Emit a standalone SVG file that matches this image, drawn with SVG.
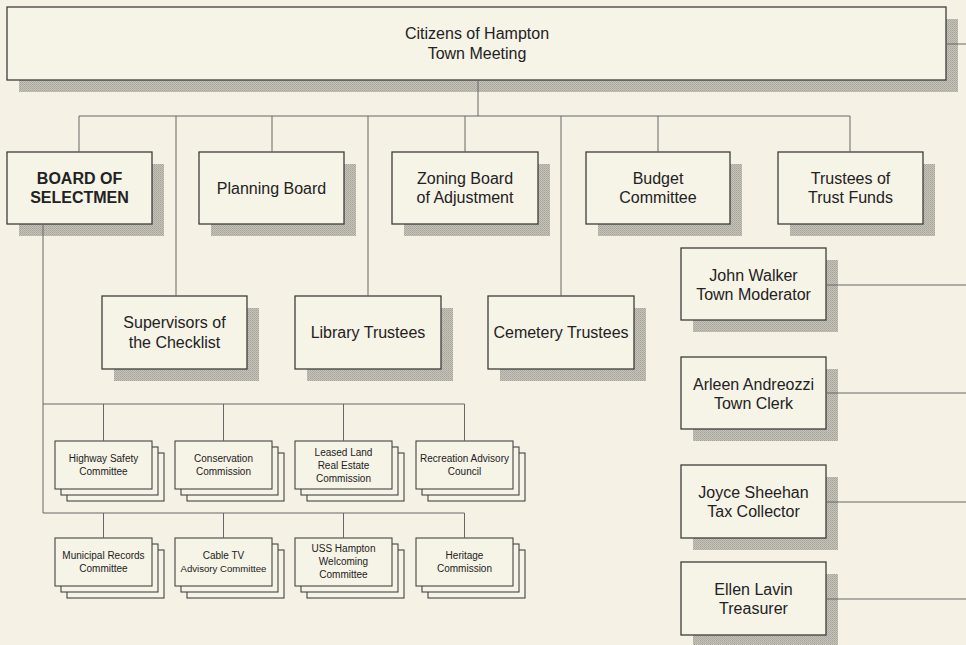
<svg xmlns="http://www.w3.org/2000/svg" width="966" height="645" viewBox="0 0 966 645">
<style>
.bg{fill:#f5f2e5}
.box{fill:#f6f3e7;stroke:#3c3c3c;stroke-width:1.3}
.sbox{fill:#f6f3e7;stroke:#444;stroke-width:1.1}
.sh{fill:url(#stip)}
.t{font-family:"Liberation Sans",Arial,sans-serif;font-size:16px;fill:#222;text-anchor:middle}
.b{font-weight:bold}
.s{font-family:"Liberation Sans",Arial,sans-serif;font-size:10px;fill:#222;text-anchor:middle}
.n{font-size:9.6px}
.c{stroke:#666;stroke-width:1;fill:none}
</style>
<defs>
<pattern id="stip" width="2" height="2" patternUnits="userSpaceOnUse">
<rect width="2" height="2" fill="#c6c3b8"/>
<rect width="1" height="1" fill="#a6a39a"/>
<rect x="1" y="1" width="1" height="1" fill="#b0ada4"/>
</pattern>
</defs>
<rect class="bg" x="0" y="0" width="966" height="645"/>

<g id="citizens">
<rect class="sh" x="19" y="19" width="939" height="73"/>
<rect class="box" x="7" y="7" width="939" height="73"/>
<text class="t" x="477" y="39">Citizens of Hampton</text>
<text class="t" x="477" y="59">Town Meeting</text>
</g>

<g id="board-of-selectmen">
<rect class="sh" x="19" y="164" width="145" height="72"/>
<rect class="box" x="7" y="152" width="145" height="72"/>
<text class="t b" x="79.5" y="184">BOARD OF</text>
<text class="t b" x="79.5" y="203">SELECTMEN</text>
</g>
<g id="planning-board">
<rect class="sh" x="211" y="164" width="145" height="72"/>
<rect class="box" x="199" y="152" width="145" height="72"/>
<text class="t" x="271.5" y="194">Planning Board</text>
</g>
<g id="zoning-board">
<rect class="sh" x="404" y="164" width="146" height="72"/>
<rect class="box" x="392" y="152" width="146" height="72"/>
<text class="t" x="465" y="184">Zoning Board</text>
<text class="t" x="465" y="203">of Adjustment</text>
</g>
<g id="budget-committee">
<rect class="sh" x="598" y="164" width="144" height="72"/>
<rect class="box" x="586" y="152" width="144" height="72"/>
<text class="t" x="658" y="184">Budget</text>
<text class="t" x="658" y="203">Committee</text>
</g>
<g id="trustees-trust-funds">
<rect class="sh" x="790" y="164" width="145" height="72"/>
<rect class="box" x="778" y="152" width="145" height="72"/>
<text class="t" x="850.5" y="184">Trustees of</text>
<text class="t" x="850.5" y="203">Trust Funds</text>
</g>

<g id="supervisors-checklist">
<rect class="sh" x="114" y="308" width="145" height="73"/>
<rect class="box" x="102" y="296" width="145" height="73"/>
<text class="t" x="174.5" y="328">Supervisors of</text>
<text class="t" x="174.5" y="348">the Checklist</text>
</g>
<g id="library-trustees">
<rect class="sh" x="307" y="308" width="146" height="73"/>
<rect class="box" x="295" y="296" width="146" height="73"/>
<text class="t" x="368" y="338">Library Trustees</text>
</g>
<g id="cemetery-trustees">
<rect class="sh" x="500" y="308" width="146" height="73"/>
<rect class="box" x="488" y="296" width="146" height="73"/>
<text class="t" x="561" y="338">Cemetery Trustees</text>
</g>

<g id="town-moderator">
<rect class="sh" x="693" y="260" width="145" height="72"/>
<rect class="box" x="681" y="248" width="145" height="72"/>
<text class="t" x="753.5" y="281">John Walker</text>
<text class="t" x="753.5" y="300">Town Moderator</text>
</g>
<g id="town-clerk">
<rect class="sh" x="693" y="369" width="145" height="72"/>
<rect class="box" x="681" y="357" width="145" height="72"/>
<text class="t" x="753.5" y="390">Arleen Andreozzi</text>
<text class="t" x="753.5" y="409">Town Clerk</text>
</g>
<g id="tax-collector">
<rect class="sh" x="693" y="477" width="145" height="73"/>
<rect class="box" x="681" y="465" width="145" height="73"/>
<text class="t" x="753.5" y="498">Joyce Sheehan</text>
<text class="t" x="753.5" y="517">Tax Collector</text>
</g>
<g id="treasurer">
<rect class="sh" x="693" y="574" width="145" height="73"/>
<rect class="box" x="681" y="562" width="145" height="73"/>
<text class="t" x="753.5" y="595">Ellen Lavin</text>
<text class="t" x="753.5" y="614">Treasurer</text>
</g>

<g id="highway-safety">
<rect class="sbox" x="67" y="453" width="97" height="48"/>
<rect class="sbox" x="61" y="447" width="97" height="48"/>
<rect class="sbox" x="55" y="441" width="97" height="48"/>
<text class="s" x="103.5" y="461.5">Highway Safety</text>
<text class="s" x="103.5" y="474.5">Committee</text>
</g>
<g id="conservation">
<rect class="sbox" x="187" y="453" width="97" height="48"/>
<rect class="sbox" x="181" y="447" width="97" height="48"/>
<rect class="sbox" x="175" y="441" width="97" height="48"/>
<text class="s" x="223.5" y="461.5">Conservation</text>
<text class="s" x="223.5" y="474.5">Commission</text>
</g>
<g id="leased-land">
<rect class="sbox" x="307" y="453" width="97" height="48"/>
<rect class="sbox" x="301" y="447" width="97" height="48"/>
<rect class="sbox" x="295" y="441" width="97" height="48"/>
<text class="s" x="343.5" y="455.5">Leased Land</text>
<text class="s" x="343.5" y="468.5">Real Estate</text>
<text class="s" x="343.5" y="481.5">Commission</text>
</g>
<g id="recreation">
<rect class="sbox" x="428" y="453" width="97" height="48"/>
<rect class="sbox" x="422" y="447" width="97" height="48"/>
<rect class="sbox" x="416" y="441" width="97" height="48"/>
<text class="s" x="464.5" y="461.5">Recreation Advisory</text>
<text class="s" x="464.5" y="474.5">Council</text>
</g>

<g id="municipal-records">
<rect class="sbox" x="67" y="550" width="97" height="48"/>
<rect class="sbox" x="61" y="544" width="97" height="48"/>
<rect class="sbox" x="55" y="538" width="97" height="48"/>
<text class="s" x="103.5" y="558.5">Municipal Records</text>
<text class="s" x="103.5" y="571.5">Committee</text>
</g>
<g id="cable-tv">
<rect class="sbox" x="187" y="550" width="97" height="48"/>
<rect class="sbox" x="181" y="544" width="97" height="48"/>
<rect class="sbox" x="175" y="538" width="97" height="48"/>
<text class="s" x="223.5" y="558.5">Cable TV</text>
<text class="s n" x="223.5" y="571.5">Advisory Committee</text>
</g>
<g id="uss-hampton">
<rect class="sbox" x="307" y="550" width="97" height="48"/>
<rect class="sbox" x="301" y="544" width="97" height="48"/>
<rect class="sbox" x="295" y="538" width="97" height="48"/>
<text class="s" x="343.5" y="551.5">USS Hampton</text>
<text class="s" x="343.5" y="564.5">Welcoming</text>
<text class="s" x="343.5" y="577.5">Committee</text>
</g>
<g id="heritage">
<rect class="sbox" x="428" y="550" width="97" height="48"/>
<rect class="sbox" x="422" y="544" width="97" height="48"/>
<rect class="sbox" x="416" y="538" width="97" height="48"/>
<text class="s" x="464.5" y="558.5">Heritage</text>
<text class="s" x="464.5" y="571.5">Commission</text>
</g>

<g id="connectors">
<path class="c" d="M478 80V116M79 116H850M79 116V152M176 116V296M272 116V152M368 116V296M465 116V152M561 116V296M658 116V152M850 116V152"/>
<path class="c" d="M946 44H966"/>
<path class="c" d="M826 285H966M826 393H966M826 502H966M826 599H966"/>
<path class="c" d="M43 224V513M43 404H464.5M103.5 404V441M223.5 404V441M343.5 404V441M464.5 404V441"/>
<path class="c" d="M43 513H464.5M103.5 513V538M223.5 513V538M343.5 513V538M464.5 513V538"/>
</g>
</svg>
